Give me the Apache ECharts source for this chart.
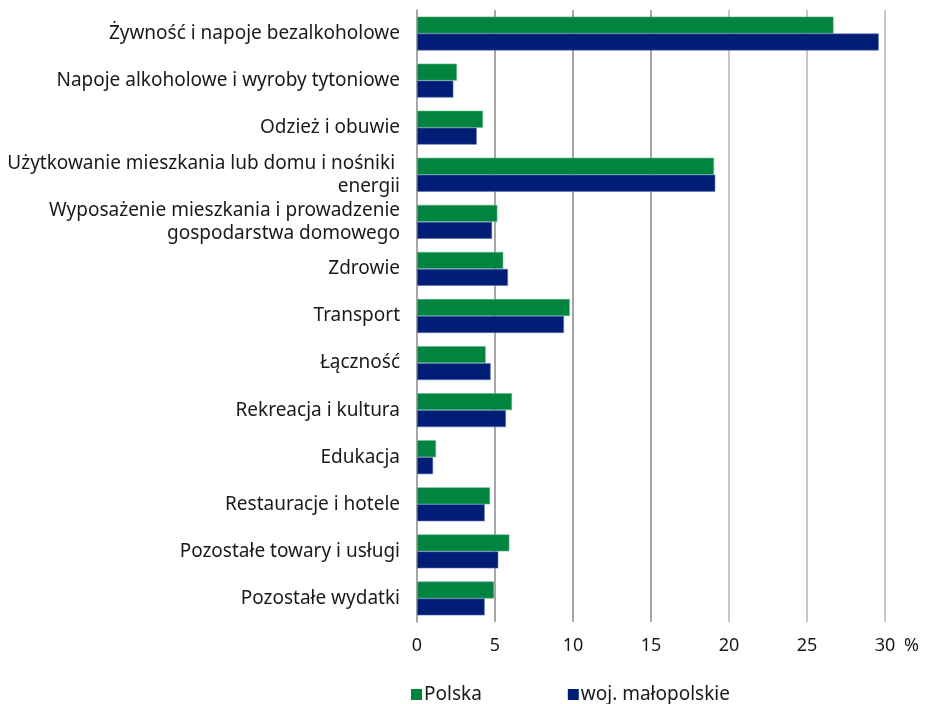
<!DOCTYPE html>
<html><head><meta charset="utf-8">
<script src="https://cdn.jsdelivr.net/npm/echarts@6/dist/echarts.min.js"></script>
<style>html,body{margin:0;padding:0;background:#fff}#c{width:929px;height:704px}</style>
</head><body><div id="c"></div>
<script>
const categories = [
  'Żywność i napoje bezalkoholowe',
  'Napoje alkoholowe i wyroby tytoniowe',
  'Odzież i obuwie',
  'Użytkowanie mieszkania lub domu i nośniki \nenergii',
  'Wyposażenie mieszkania i prowadzenie\ngospodarstwa domowego',
  'Zdrowie',
  'Transport',
  'Łączność',
  'Rekreacja i kultura',
  'Edukacja',
  'Restauracje i hotele',
  'Pozostałe towary i usługi',
  'Pozostałe wydatki'
];
const polska = [26.7, 2.56, 4.23, 19.04, 5.15, 5.53, 9.79, 4.40, 6.09, 1.22, 4.68, 5.92, 4.94];
const malopolskie = [29.6, 2.33, 3.83, 19.12, 4.81, 5.83, 9.42, 4.72, 5.70, 1.03, 4.34, 5.21, 4.34];
const xTicks = [0, 5, 10, 15, 20, 25, 30];

const FONT = 'Noto Sans';
const FS = 19;
const chart = echarts.init(document.getElementById('c'));
chart.setOption({
  animation: false,
  textStyle: { fontFamily: FONT },
  grid: { left: 417, right: 44, top: 10, bottom: 82 },
  legend: {
    top: 680, left: 406,
    itemWidth: 11, itemHeight: 11, itemGap: 86,
    icon: 'rect',
    itemStyle: { borderWidth: 0 },
    textStyle: { fontFamily: FONT, fontSize: FS, color: '#1a1a1a', padding: [0, 0, 0, -3] },
    data: ['Polska', 'woj. małopolskie']
  },
  xAxis: {
    type: 'value', min: xTicks[0], max: xTicks[xTicks.length - 1], interval: 5,
    name: '%', nameLocation: 'end', nameGap: 19,
    nameTextStyle: { fontFamily: FONT, fontSize: 18, color: '#1a1a1a', verticalAlign: 'top', padding: [15, 0, 0, 0] },
    axisLine: { show: false },
    axisTick: { show: false },
    axisLabel: { fontFamily: FONT, fontSize: 18, color: '#1a1a1a', margin: 15 },
    splitLine: { show: true, lineStyle: { color: ['#ffffff', '#8a8a8a', '#8a8a8a', '#8a8a8a', '#b5b5b5', '#b5b5b5', '#b5b5b5'], width: 1.5 } }
  },
  yAxis: {
    type: 'category', data: categories, inverse: true,
    axisLine: { show: true, lineStyle: { color: '#8a8a8a', width: 1.5 } },
    axisTick: { show: false },
    axisLabel: { fontFamily: FONT, fontSize: FS, color: '#1a1a1a', margin: 17, lineHeight: 23, align: 'right' }
  },
  series: [
    { name: 'Polska', type: 'bar', data: polska, barGap: '0%', barCategoryGap: '28%',
      itemStyle: { color: '#00843f', borderColor: '#5fb487', borderWidth: 0.6 } },
    { name: 'woj. małopolskie', type: 'bar', data: malopolskie,
      itemStyle: { color: '#001e76', borderColor: '#5a6fae', borderWidth: 0.6 } }
  ]
});
</script></body></html>
